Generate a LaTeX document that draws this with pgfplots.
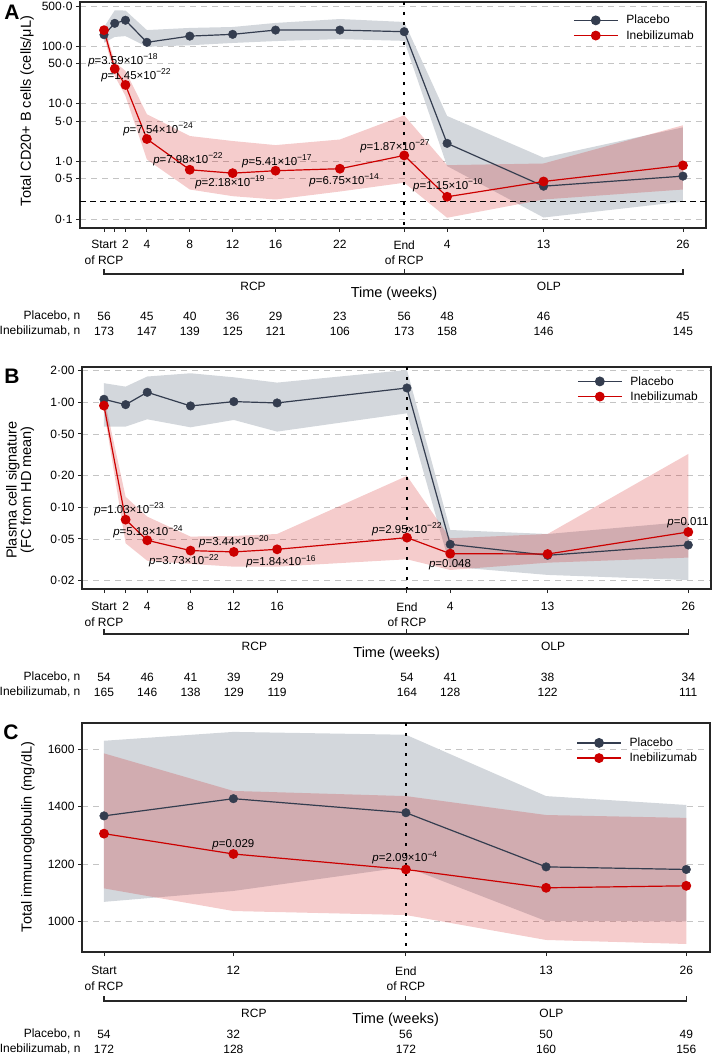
\documentclass[border=0pt]{standalone}
\usepackage{fontspec}
\setmainfont{Liberation Sans}
\usepackage{pgfplots}
\pgfplotsset{compat=1.18}
\usepackage{pgfplotstable}
\usepgfplotslibrary{fillbetween}

\definecolor{pla}{HTML}{343D4F}
\definecolor{ine}{HTML}{CC0000}
\definecolor{graybnd}{HTML}{D3D7DC}
\definecolor{gridc}{HTML}{C4C4C4}

\newcommand{\fs}[1]{\fontsize{#1}{#1}\selectfont}
\newcommand{\pv}[2]{\textit{p}=#1×10\raisebox{0.42em}{\fontsize{8.5}{8.5}\selectfont −#2}}

% Panel A: CD20+ B cells
\pgfplotstableread{
wk m lo hi
0 158.6 115 215
1 250 145 420
2 283 150 417
4 117 98 191
8 150 104 208
12 161 114 216
16 191 123 254
22 191 133 297
28 179 124 264
32 2.06 0.83 6.15
41 0.371 0.106 1.16
54 0.555 0.20 3.9
}\Apla
\pgfplotstableread{
wk m lo hi
0 190 150 230
1 40.5 30.6 53
2 21.3 13.7 37.4
4 2.45 1.08 6.6
8 0.716 0.325 2.76
12 0.625 0.249 2.26
16 0.689 0.218 1.92
22 0.746 0.30 2.4
28 1.27 0.426 6.33
32 0.243 0.105 0.86
41 0.448 0.218 0.92
54 0.852 0.325 4.24
}\Aine
% Panel B: plasma cell signature
\pgfplotstableread{
wk m lo hi
0 1.068 0.587 1.52
2 0.950 0.587 1.41
4 1.245 0.689 1.76
8 0.923 0.578 1.89
12 1.015 0.679 1.73
16 0.986 0.526 1.54
28 1.369 0.786 2.03
32 0.0444 0.0272 0.0608
41 0.0349 0.0227 0.0557
54 0.0438 0.0203 0.073
}\Bpla
\pgfplotstableread{
wk m lo hi
0 0.930 0.833 1.12
2 0.0763 0.0454 0.126
4 0.0485 0.031 0.0815
8 0.0387 0.0289 0.0526
12 0.0376 0.0272 0.0533
16 0.0398 0.0272 0.0557
28 0.0514 0.032 0.199
32 0.0362 0.0253 0.0507
41 0.0359 0.0297 0.0557
54 0.0582 0.0332 0.322
}\Bine
% Panel C: total immunoglobulin
\pgfplotstableread{
wk m lo hi
0 1368 1068 1630
12 1428 1106 1661
28 1379 1190 1651
41 1190 1001 1437
54 1181 1000 1406
}\Cpla
\pgfplotstableread{
wk m lo hi
0 1306 1115 1586
12 1235 1036 1455
28 1181 1022 1437
41 1117 935 1371
54 1124 921 1361
}\Cine

\pgfplotsset{
  panel/.style={
    scale only axis, clip=false,
    axis line style={line width=1.2pt, black!85},
    tick align=outside, xtick pos=bottom, ytick pos=left,
    major tick length=4pt, tick style={line width=0.9pt, black!85},
    ymajorgrids, major grid style={gridc, line width=0.8pt, dash pattern=on 6pt off 5pt},
    yticklabel style={font=\fs{12}},
    xticklabel style={align=center, font=\fontsize{12}{15.5}\selectfont},
    legend style={draw=none, fill=none, font=\fs{12}, inner sep=0pt, row sep=1pt,
      anchor=north west, cells={anchor=west},
      /tikz/every odd column/.append style={column sep=6pt}},
    legend image code/.code={\draw[##1,mark repeat=2,mark phase=2] plot coordinates {(0pt,0pt) (22pt,0pt) (44pt,0pt)};},
  },
  pl/.style={pla, line width=1.2pt, mark=*, mark size=4.3pt, mark options={solid}},
  in/.style={ine, line width=1.2pt, mark=*, mark size=4.3pt, mark options={solid}},
  plline/.style={pla, line width=1.2pt, mark=none, forget plot},
  plmarks/.style={pla, only marks, mark=*, mark size=4.3pt, forget plot},
  bandg/.style={graybnd, draw=none, forget plot},
  bandr/.style={ine, fill opacity=0.2, draw=none, forget plot},
  edge/.style={draw=none, mark=none, forget plot},
}

\begin{document}
\begin{tikzpicture}

% ---------------- Panel A ----------------
\begin{axis}[panel, at={(80pt,-228pt)}, anchor=south west, width=626pt, height=226pt,
  xmin=-2.24, xmax=56.15, ymode=log, ymin=0.0697, ymax=587,
  xtick={0,1,2,4,8,12,16,22,28,32,41,54},
  xticklabels={{Start\\of RCP},,2,4,8,12,16,22,{End\\of RCP},4,13,26},
  xticklabel style={yshift=-5pt},
  ytick={0.1,0.5,1,5,10,50,100,500},
  yticklabels={0·1,0·5,1·0,5·0,10·0,50·0,100·0,500·0},
  legend style={at={(rel axis cs:0.7875,0.951)}}]
\addlegendimage{pl}\addlegendentry{Placebo}
\addlegendimage{in}\addlegendentry{Inebilizumab}
\addplot[edge, name path=apu] table[x=wk,y=hi]{\Apla};
\addplot[edge, name path=apl] table[x=wk,y=lo]{\Apla};
\addplot[bandg] fill between[of=apu and apl];
\addplot[plline] table[x=wk,y=m]{\Apla};
\addplot[edge, name path=aiu] table[x=wk,y=hi]{\Aine};
\addplot[edge, name path=ail] table[x=wk,y=lo]{\Aine};
\addplot[bandr] fill between[of=aiu and ail];
\draw[black, line width=1.2pt, dash pattern=on 6pt off 4pt] (axis cs:-2.24,0.2) -- (axis cs:56.15,0.2);
\draw[black, line width=2pt, dash pattern=on 3pt off 7pt] (axis cs:28,587) -- (axis cs:28,0.0697);
\addplot[plmarks] table[x=wk,y=m]{\Apla};
\addplot[in, forget plot] table[x=wk,y=m]{\Aine};
\begin{scope}[font=\fs{11.5}]
\node at (axis cs:1.77,57.4) {\pv{3.59}{18}};
\node at (axis cs:2.98,31.5) {\pv{1.45}{22}};
\node at (axis cs:5.04,3.61) {\pv{7.54}{24}};
\node at (axis cs:7.83,1.08) {\pv{7.98}{22}};
\node at (axis cs:11.75,0.43) {\pv{2.18}{19}};
\node at (axis cs:16.13,1.0) {\pv{5.41}{17}};
\node at (axis cs:22.4,0.467) {\pv{6.75}{14}};
\node at (axis cs:27.14,1.82) {\pv{1.87}{27}};
\node at (axis cs:32.08,0.382) {\pv{1.15}{10}};
\end{scope}
\draw[black!85, line width=1.1pt] ([yshift=-41pt]axis cs:0,0.0697) -- ([yshift=-46pt]axis cs:0,0.0697) -- ([yshift=-46pt]axis cs:54,0.0697) -- ([yshift=-41pt]axis cs:54,0.0697);
\draw[black!85, line width=1.1pt] ([yshift=-41pt]axis cs:28,0.0697) -- ([yshift=-46pt]axis cs:28,0.0697);
\begin{scope}[font=\fs{12}]
\node at ([yshift=-58pt]axis cs:13.9,0.0697) {RCP};
\node at ([yshift=-58pt]axis cs:41.5,0.0697) {OLP};
\node[font=\fs{14.5}] at ([yshift=-66pt]axis cs:27.05,0.0697) {Time (weeks)};
\node[anchor=east] at ([yshift=-88pt]axis cs:-1.87,0.0697) {Placebo, n};
\node[anchor=east] at ([yshift=-103pt]axis cs:-1.87,0.0697) {Inebilizumab, n};
\node at ([yshift=-88pt]axis cs:0,0.0697) {56};
\node at ([yshift=-88pt]axis cs:4,0.0697) {45};
\node at ([yshift=-88pt]axis cs:8,0.0697) {40};
\node at ([yshift=-88pt]axis cs:12,0.0697) {36};
\node at ([yshift=-88pt]axis cs:16,0.0697) {29};
\node at ([yshift=-88pt]axis cs:22,0.0697) {23};
\node at ([yshift=-88pt]axis cs:28,0.0697) {56};
\node at ([yshift=-88pt]axis cs:32,0.0697) {48};
\node at ([yshift=-88pt]axis cs:41,0.0697) {46};
\node at ([yshift=-88pt]axis cs:54,0.0697) {45};
\node at ([yshift=-103pt]axis cs:0,0.0697) {173};
\node at ([yshift=-103pt]axis cs:4,0.0697) {147};
\node at ([yshift=-103pt]axis cs:8,0.0697) {139};
\node at ([yshift=-103pt]axis cs:12,0.0697) {125};
\node at ([yshift=-103pt]axis cs:16,0.0697) {121};
\node at ([yshift=-103pt]axis cs:22,0.0697) {106};
\node at ([yshift=-103pt]axis cs:28,0.0697) {173};
\node at ([yshift=-103pt]axis cs:32,0.0697) {158};
\node at ([yshift=-103pt]axis cs:41,0.0697) {146};
\node at ([yshift=-103pt]axis cs:54,0.0697) {145};
\end{scope}
\end{axis}

% ---------------- Panel B ----------------
\begin{axis}[panel, at={(82pt,-589pt)}, anchor=south west, width=629pt, height=222pt,
  xmin=-2.03, xmax=56.1, ymode=log, ymin=0.01667, ymax=2.168,
  xtick={0,2,4,8,12,16,28,32,41,54},
  xticklabels={{Start\\of RCP},2,4,8,12,16,{End\\of RCP},4,13,26},
  xticklabel style={yshift=-6pt},
  ytick={0.02,0.05,0.1,0.2,0.5,1,2},
  yticklabels={0·02,0·05,0·10,0·20,0·50,1·00,2·00},
  legend style={at={(rel axis cs:0.787,0.968)}}]
\addlegendimage{pl}\addlegendentry{Placebo}
\addlegendimage{in}\addlegendentry{Inebilizumab}
\addplot[edge, name path=bpu] table[x=wk,y=hi]{\Bpla};
\addplot[edge, name path=bpl] table[x=wk,y=lo]{\Bpla};
\addplot[bandg] fill between[of=bpu and bpl];
\addplot[plline] table[x=wk,y=m]{\Bpla};
\addplot[edge, name path=biu] table[x=wk,y=hi]{\Bine};
\addplot[edge, name path=bil] table[x=wk,y=lo]{\Bine};
\addplot[bandr] fill between[of=biu and bil];
\draw[black, line width=2pt, dash pattern=on 3pt off 7pt] (axis cs:28,2.168) -- (axis cs:28,0.01667);
\addplot[plmarks] table[x=wk,y=m]{\Bpla};
\addplot[in, forget plot] table[x=wk,y=m]{\Bine};
\begin{scope}[font=\fs{11.5}]
\node at (axis cs:2.31,0.0957) {\pv{1.03}{23}};
\node at (axis cs:4.07,0.0586) {\pv{5.18}{24}};
\node at (axis cs:7.39,0.031) {\pv{3.73}{22}};
\node at (axis cs:12.01,0.047) {\pv{3.44}{20}};
\node at (axis cs:16.36,0.0303) {\pv{1.84}{16}};
\node at (axis cs:28.0,0.0617) {\pv{2.95}{22}};
\node at (axis cs:31.98,0.0286) {\textit{p}=0.048};
\node at (axis cs:53.97,0.0713) {\textit{p}=0.011};
\end{scope}
\draw[black!85, line width=1.1pt] ([yshift=-40pt]axis cs:0,0.01667) -- ([yshift=-45pt]axis cs:0,0.01667) -- ([yshift=-45pt]axis cs:54,0.01667) -- ([yshift=-40pt]axis cs:54,0.01667);
\draw[black!85, line width=1.1pt] ([yshift=-40pt]axis cs:28,0.01667) -- ([yshift=-45pt]axis cs:28,0.01667);
\begin{scope}[font=\fs{12}]
\node at ([yshift=-57pt]axis cs:13.9,0.01667) {RCP};
\node at ([yshift=-57pt]axis cs:41.5,0.01667) {OLP};
\node[font=\fs{14.5}] at ([yshift=-65pt]axis cs:27.05,0.01667) {Time (weeks)};
\node[anchor=east] at ([yshift=-88pt]axis cs:-1.85,0.01667) {Placebo, n};
\node[anchor=east] at ([yshift=-103pt]axis cs:-1.85,0.01667) {Inebilizumab, n};
\node at ([yshift=-88pt]axis cs:0,0.01667) {54};
\node at ([yshift=-88pt]axis cs:4,0.01667) {46};
\node at ([yshift=-88pt]axis cs:8,0.01667) {41};
\node at ([yshift=-88pt]axis cs:12,0.01667) {39};
\node at ([yshift=-88pt]axis cs:16,0.01667) {29};
\node at ([yshift=-88pt]axis cs:28,0.01667) {54};
\node at ([yshift=-88pt]axis cs:32,0.01667) {41};
\node at ([yshift=-88pt]axis cs:41,0.01667) {38};
\node at ([yshift=-88pt]axis cs:54,0.01667) {34};
\node at ([yshift=-103pt]axis cs:0,0.01667) {165};
\node at ([yshift=-103pt]axis cs:4,0.01667) {146};
\node at ([yshift=-103pt]axis cs:8,0.01667) {138};
\node at ([yshift=-103pt]axis cs:12,0.01667) {129};
\node at ([yshift=-103pt]axis cs:16,0.01667) {119};
\node at ([yshift=-103pt]axis cs:28,0.01667) {164};
\node at ([yshift=-103pt]axis cs:32,0.01667) {128};
\node at ([yshift=-103pt]axis cs:41,0.01667) {122};
\node at ([yshift=-103pt]axis cs:54,0.01667) {111};
\end{scope}
\end{axis}

% ---------------- Panel C ----------------
\begin{axis}[panel, at={(82pt,-952pt)}, anchor=south west, width=628pt, height=229pt,
  xmin=-2.04, xmax=56.2, ymin=893, ymax=1692,
  xtick={0,12,28,41,54},
  xticklabels={{Start\\of RCP},12,{End\\of RCP},13,26},
  xticklabel style={yshift=-7pt},
  ytick={1000,1200,1400,1600},
  yticklabels={1000,1200,1400,1600},
  legend style={at={(rel axis cs:0.787,0.945)}}]
\addlegendimage{pl}\addlegendentry{Placebo}
\addlegendimage{in}\addlegendentry{Inebilizumab}
\addplot[edge, name path=cpu] table[x=wk,y=hi]{\Cpla};
\addplot[edge, name path=cpl] table[x=wk,y=lo]{\Cpla};
\addplot[bandg] fill between[of=cpu and cpl];
\addplot[plline] table[x=wk,y=m]{\Cpla};
\addplot[edge, name path=ciu] table[x=wk,y=hi]{\Cine};
\addplot[edge, name path=cil] table[x=wk,y=lo]{\Cine};
\addplot[bandr] fill between[of=ciu and cil];
\draw[black, line width=2pt, dash pattern=on 3pt off 7pt] (axis cs:28,1692) -- (axis cs:28,893);
\addplot[plmarks] table[x=wk,y=m]{\Cpla};
\addplot[in, forget plot] table[x=wk,y=m]{\Cine};
\begin{scope}[font=\fs{11.5}]
\node at (axis cs:12.0,1268) {\textit{p}=0.029};
\node at (axis cs:27.9,1222) {\pv{2.09}{4}};
\end{scope}
\draw[black!85, line width=1.1pt] ([yshift=-44pt]axis cs:0,893) -- ([yshift=-49pt]axis cs:0,893) -- ([yshift=-49pt]axis cs:54,893) -- ([yshift=-44pt]axis cs:54,893);
\draw[black!85, line width=1.1pt] ([yshift=-44pt]axis cs:28,893) -- ([yshift=-49pt]axis cs:28,893);
\begin{scope}[font=\fs{12}]
\node at ([yshift=-61pt]axis cs:13.9,893) {RCP};
\node at ([yshift=-61pt]axis cs:41.5,893) {OLP};
\node[font=\fs{14.5}] at ([yshift=-68pt]axis cs:27.05,893) {Time (weeks)};
\node[anchor=east] at ([yshift=-82pt]axis cs:-1.85,893) {Placebo, n};
\node[anchor=east] at ([yshift=-97pt]axis cs:-1.85,893) {Inebilizumab, n};
\node at ([yshift=-82pt]axis cs:0,893) {54};
\node at ([yshift=-82pt]axis cs:12,893) {32};
\node at ([yshift=-82pt]axis cs:28,893) {56};
\node at ([yshift=-82pt]axis cs:41,893) {50};
\node at ([yshift=-82pt]axis cs:54,893) {49};
\node at ([yshift=-97pt]axis cs:0,893) {172};
\node at ([yshift=-97pt]axis cs:12,893) {128};
\node at ([yshift=-97pt]axis cs:28,893) {172};
\node at ([yshift=-97pt]axis cs:41,893) {160};
\node at ([yshift=-97pt]axis cs:54,893) {156};
\end{scope}
\end{axis}

% panel letters and y labels
\node[font=\bfseries\fs{21}] at (12pt,-12pt) {A};
\node[font=\bfseries\fs{21}] at (12pt,-376pt) {B};
\node[font=\bfseries\fs{21}] at (11pt,-732pt) {C};
\node[rotate=90, font=\fs{14.5}] at (27pt,-111pt) {Total CD20+ B cells (cells/μL)};
\node[rotate=90, font=\fs{14.5}, align=center] at (20pt,-490pt) {Plasma cell signature\\(FC from HD mean)};
\node[rotate=90, font=\fs{14.5}] at (28pt,-837pt) {Total immunoglobulin (mg/dL)};

\pgfresetboundingbox
\useasboundingbox (0pt,0pt) rectangle (714pt,-1058pt);
\end{tikzpicture}
\end{document}
